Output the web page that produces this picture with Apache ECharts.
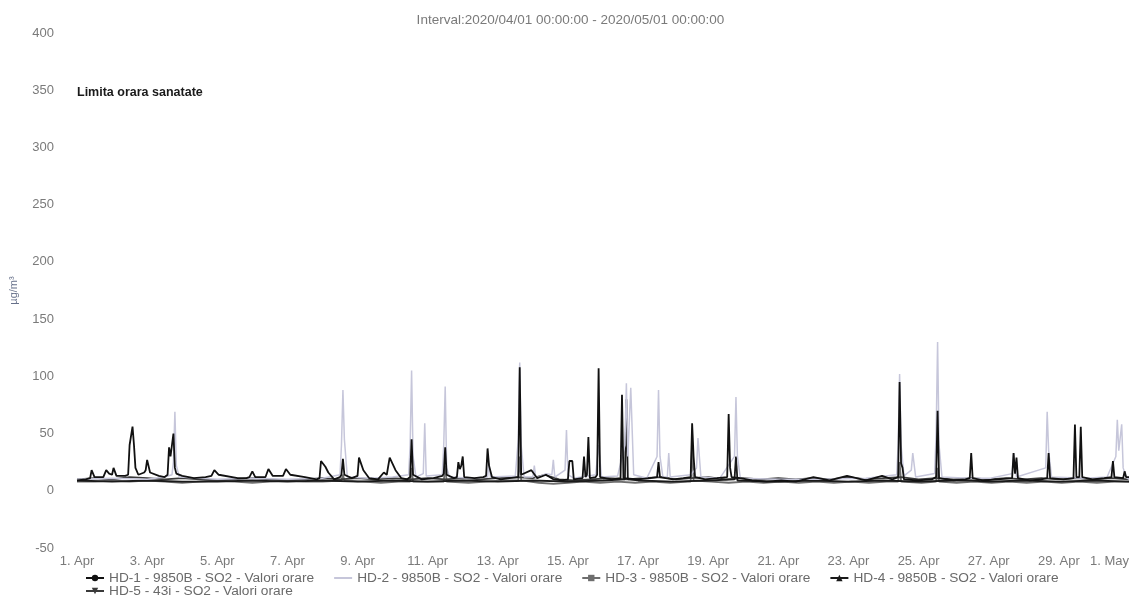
<!DOCTYPE html>
<html>
<head>
<meta charset="utf-8">
<script src="https://cdn.jsdelivr.net/npm/echarts@6/dist/echarts.min.js"></script>
<style>html,body{margin:0;padding:0;background:#fff}#c{width:1141px;height:602px}</style>
</head>
<body>
<div id="c"></div>
<script>
// x values are hours since 2020/04/01 00:00
const titleText = 'Interval:2020/04/01 00:00:00 - 2020/05/01 00:00:00';
const limitLabel = 'Limita orara sanatate';
const limitValue = 350;
const unitName = 'µg/m³';
const seriesNames = [
  'HD-1 - 9850B - SO2 - Valori orare',
  'HD-2 - 9850B - SO2 - Valori orare',
  'HD-3 - 9850B - SO2 - Valori orare',
  'HD-4 - 9850B - SO2 - Valori orare',
  'HD-5 - 43i - SO2 - Valori orare'
];
const yTicks = [-50, 0, 50, 100, 150, 200, 250, 300, 350, 400];

const hd1 = [[0,9],[6,10],[9,11],[10,18],[12,12],[18,12],[19,13],[20,18],[22,15],[24,14],[25,20],[27,13],[33,13],[35,14],[36,40],[38,56],[39,40],[40,20],[42,14],[46,16],[47,18],[48,27],[50,16],[56,13],[60,12],[62,14],[63,38],[64,30],[65,40],[66,50],[67,20],[68,15],[72,13],[80,11],[88,12],[92,13],[94,18],[97,14],[110,11],[116,11],[118,12],[120,17],[122,12],[129,12],[131,19],[134,13],[141,13],[143,19],[146,14],[156,12],[164,10],[166,11],[167,26],[170,21],[172,16],[176,10],[180,12],[181,14],[182,28],[183,14],[188,11],[192,13],[193,29],[196,18],[200,11],[206,10],[210,16],[212,14],[214,29],[218,18],[222,11],[226,10],[228,12],[229,45],[230,14],[236,10],[244,11],[250,13],[251,15],[252,38],[253,14],[258,11],[260,12],[261,25],[262,19],[263,22],[264,30],[265,12],[272,11],[278,12],[280,13],[281,37],[282,22],[284,12],[290,10],[296,11],[302,12],[303,108],[304,14],[311,18],[315,11],[321,14],[326,10],[332,9],[336,10],[337,26],[339,26],[340,10],[346,11],[347,30],[348,12],[349,14],[350,47],[351,11],[355,12],[356,14],[357,107],[358,12],[366,10],[372,11],[373,84],[374,11],[384,10],[392,11],[397,12],[398,25],[399,12],[408,10],[415,11],[420,12],[421,59],[422,30],[423,12],[430,10],[438,11],[445,12],[446,67],[447,20],[448,12],[454,11],[462,9],[472,8],[482,9],[492,8],[504,12],[515,9],[527,13],[540,9],[551,13],[558,10],[562,12],[563,95],[564,24],[565,20],[566,10],[576,9],[585,10],[588,12],[589,70],[590,11],[600,9],[608,10],[611,11],[612,33],[613,11],[620,9],[630,10],[640,11],[641,33],[642,15],[643,29],[644,11],[652,9],[660,10],[664,11],[665,33],[666,11],[675,10],[682,11],[683,58],[684,12],[686,12],[687,56],[688,12],[695,10],[703,11],[708,12],[709,26],[710,12],[716,11],[717,17],[718,12],[720,12]];

const hd2 = [[0,10],[24,11],[48,10],[60,12],[65,14],[66,25],[67,69],[68,22],[70,12],[96,10],[120,11],[144,10],[168,11],[180,14],[181,40],[182,88],[183,45],[185,12],[200,11],[216,12],[227,14],[228,40],[229,105],[230,30],[232,12],[237,15],[238,59],[239,13],[250,14],[251,40],[252,91],[253,20],[255,12],[270,11],[281,12],[282,24],[283,12],[300,13],[302,45],[303,112],[304,40],[306,12],[312,12],[313,22],[314,11],[321,15],[325,14],[326,27],[327,12],[334,18],[335,53],[336,14],[340,11],[355,14],[357,40],[359,12],[370,13],[375,40],[376,94],[377,30],[379,90],[381,14],[390,11],[397,30],[398,88],[399,30],[401,12],[404,12],[405,33],[406,12],[420,14],[424,20],[425,46],[427,12],[440,11],[450,30],[451,82],[452,30],[454,11],[480,10],[510,10],[540,11],[561,14],[562,40],[563,102],[564,40],[566,13],[571,18],[572,33],[574,12],[587,15],[588,50],[589,130],[590,40],[592,12],[610,11],[625,11],[640,15],[641,33],[643,12],[663,20],[664,69],[665,35],[667,12],[690,11],[705,12],[711,30],[712,62],[713,35],[715,58],[716,20],[718,12],[720,10]];

const hd3 = [[0,8],[12,8],[24,9],[36,8],[48,9],[60,8],[72,7],[84,8],[96,9],[108,8],[120,7],[132,8],[144,9],[156,8],[168,8],[181,9],[182,14],[183,9],[196,8],[208,7],[220,8],[228,8],[229,20],[230,8],[244,8],[251,8],[252,22],[253,8],[268,7],[280,8],[292,9],[302,9],[303,30],[304,9],[316,7],[326,6],[336,7],[346,8],[358,7],[370,8],[382,7],[394,8],[406,7],[418,8],[420,8],[421,40],[422,9],[434,8],[446,7],[458,8],[470,7],[482,8],[494,7],[506,8],[518,7],[530,8],[542,7],[554,8],[562,8],[563,25],[564,8],[578,7],[588,8],[589,20],[590,8],[602,7],[614,8],[626,7],[638,8],[650,7],[662,8],[674,7],[686,8],[698,7],[710,8],[720,8]];

const hd4 = [[0,9],[24,8],[48,9],[72,8],[96,8],[120,9],[144,8],[168,9],[192,8],[216,9],[240,8],[264,9],[288,8],[312,9],[336,8],[360,9],[375,10],[376,80],[377,10],[384,9],[408,8],[432,9],[450,10],[451,30],[452,9],[480,8],[504,9],[528,8],[552,9],[576,8],[600,9],[612,9],[624,8],[648,9],[672,8],[696,9],[720,8]];

const hd5 = [[0,10],[12,11],[24,10],[36,12],[48,11],[60,10],[72,11],[84,10],[96,9],[108,10],[120,11],[132,10],[144,9],[156,10],[168,11],[180,10],[192,11],[204,10],[216,11],[228,10],[240,11],[252,10],[264,11],[276,10],[288,11],[300,12],[312,11],[320,14],[330,10],[340,9],[352,10],[364,11],[376,10],[388,11],[400,12],[410,10],[420,11],[432,12],[444,10],[456,11],[468,10],[480,11],[492,10],[504,11],[516,10],[528,12],[540,10],[552,11],[564,12],[576,10],[588,11],[600,10],[612,11],[624,10],[636,11],[648,10],[660,11],[672,10],[684,11],[696,10],[708,11],[720,10]];

const FONT = 'Liberation Sans, Arial, sans-serif';
const chart = echarts.init(document.getElementById('c'), null, {renderer: 'canvas'});

function dayLabel(h) {
  const d = new Date(Date.UTC(2020, 3, 1) + h * 3600000);
  const months = ['Jan','Feb','Mar','Apr','May','Jun','Jul','Aug','Sep','Oct','Nov','Dec'];
  return d.getUTCDate() + '. ' + months[d.getUTCMonth()];
}

const downTri = 'path://M0,0 L10,0 L5,9 Z';
const mk = (name, data, color, width, symbol, z) => ({
  name, type: 'line', data, z,
  symbol, symbolSize: 8, showSymbol: false,
  lineStyle: {color, width}, itemStyle: {color},
  animation: false
});

const series = [
  mk(seriesNames[2], hd3, '#6e6e6e', 1.8, 'rect', 2),
  mk(seriesNames[4], hd5, '#3a3a3a', 1.8, downTri, 3),
  mk(seriesNames[3], hd4, '#1a1a1a', 1.8, 'triangle', 4),
  mk(seriesNames[1], hd2, '#c6c6da', 1.5, 'none', 5),
  mk(seriesNames[0], hd1, '#111111', 1.8, 'circle', 6)
];
series[4].markLine = {
  silent: true, symbol: 'none', animation: false,
  lineStyle: {color: 'transparent', width: 0},
  data: [{yAxis: limitValue}],
  label: {
    position: 'insideStartTop', formatter: limitLabel, distance: [0, -9],
    color: '#1a1a1a', fontFamily: FONT, fontSize: 12.5, fontWeight: 'bold'
  }
};

const legendText = {color: '#6a6a6a', fontFamily: FONT, fontSize: 13.7};
const legendItems = seriesNames.map((n, i) => i === 1 ? {name: n, itemStyle: {opacity: 0}} : {name: n});
chart.setOption({
  backgroundColor: '#ffffff',
  animation: false,
  title: {
    text: titleText, left: 'center', top: 8,
    textStyle: {color: '#7a7a7a', fontFamily: FONT, fontSize: 13.5, fontWeight: 'normal'}
  },
  grid: {left: 75, right: 12, top: 33, bottom: 54},
  xAxis: {
    type: 'value', min: 0, max: 720, interval: 48,
    axisLine: {show: false}, axisTick: {show: false}, splitLine: {show: false},
    axisLabel: {
      formatter: dayLabel, color: '#7a7a7a', fontFamily: FONT, fontSize: 13, margin: 7,
      showMaxLabel: true, alignMaxLabel: 'right'
    }
  },
  yAxis: {
    type: 'value', min: yTicks[0], max: yTicks[yTicks.length - 1], interval: 50,
    name: unitName, nameLocation: 'middle', nameGap: 58, nameRotate: 90,
    nameTextStyle: {color: '#66708a', fontFamily: FONT, fontSize: 11},
    axisLine: {show: false}, axisTick: {show: false}, splitLine: {show: false},
    axisLabel: {color: '#7a7a7a', fontFamily: FONT, fontSize: 13, margin: 23}
  },
  legend: [
    {
      data: legendItems.slice(0, 4), left: 80, top: 566, orient: 'horizontal',
      itemWidth: 18, itemHeight: 8, itemGap: 19, textStyle: legendText, selectedMode: false
    },
    {
      data: legendItems.slice(4), left: 80, top: 579, orient: 'horizontal',
      itemWidth: 18, itemHeight: 8, itemGap: 19, textStyle: legendText, selectedMode: false
    }
  ],
  series
});
</script>
</body>
</html>
